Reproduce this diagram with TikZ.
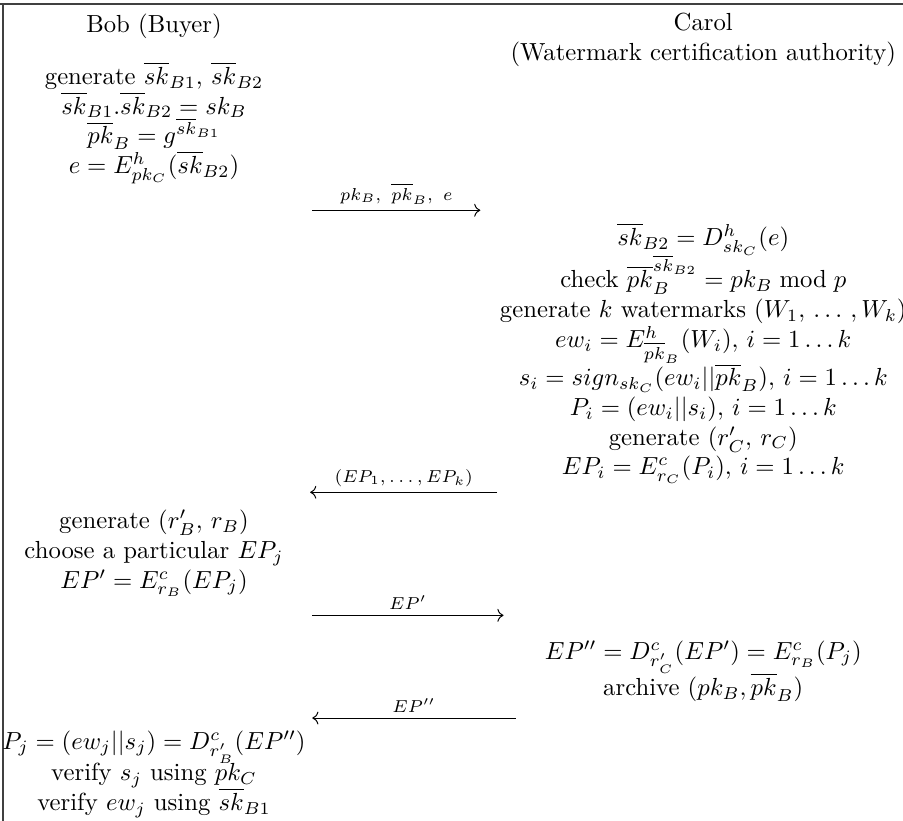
\documentclass[tikz,border=0pt]{standalone}
\usetikzlibrary{arrows.meta}

\begin{document}
\begin{tikzpicture}[frame line/.style={line width=0.6pt, black!75}, party/.style={anchor=north, align=center}, step block/.style={anchor=north, align=center, inner sep=0pt, execute at begin node={\lineskip=0pt}}, msg/.style={-{Computer Modern Rightarrow}, line width=0.4pt}, msg label/.style={midway, above, font=\scriptsize, inner sep=2pt}]

    \useasboundingbox (0, 0) rectangle (12.84, -11.67);

    % =========================================================================
    % Marco y cabeceras
    % =========================================================================
    \draw[frame line] (0, -0.06) -- (12.84, -0.06);
    \draw[frame line] (0.04, -0.06) -- (0.04, -11.67);

    \node[party] (bob) at (2.19, -0.08) {Bob (Buyer)};
    \node[party] (carol) at (10.0, -0.06) {Carol\\(Watermark certification authority)};

    % =========================================================================
    % Pasos de cada parte
    % =========================================================================
    \node[step block] (bobgen) at (2.19, -0.88) {generate $\overline{sk}_{B1}$, $\overline{sk}_{B2}$\\
        $\overline{sk}_{B1}.\overline{sk}_{B2} = sk_B$\\
        $\overline{pk}_B = g^{\overline{sk}_{B1}}$\\
        $e = E^h_{pk_C}(\overline{sk}_{B2})$};

    \node[step block] (carolchk) at (10.0, -3.17) {$\overline{sk}_{B2} = D^h_{sk_C}(e)$\\
        check $\overline{pk}_B^{\overline{sk}_{B2}} = pk_B \bmod p$\\
        generate $k$ watermarks $(W_1,\,\ldots\,, W_k)$\\
        $ew_i = E^h_{\overline{pk}_B}(W_i),\, i = 1\ldots k$\\
        $s_i = sign_{sk_C}(ew_i||\overline{pk}_B),\, i = 1\ldots k$\\
        $P_i = (ew_i||s_i),\, i = 1\ldots k$\\
        generate $(r'_C,\, r_C)$\\
        $EP_i = E^c_{r_C}(P_i),\, i = 1\ldots k$};

    \node[step block] (bobsel) at (2.19, -7.25) {generate $(r'_B,\, r_B)$\\
        choose a particular $EP_j$\\
        $EP' = E^c_{r_B}(EP_j)$};

    \node[step block] (carolarc) at (10.0, -9.10) {$EP'' = D^c_{r'_C}(EP') = E^c_{r_B}(P_j)$\\
        archive $(pk_B, \overline{pk}_B)$};

    \node[step block] (bobver) at (2.19, -10.38) {$P_j = (ew_j||s_j) = D^c_{r'_B}(EP'')$\\
        verify $s_j$ using $pk_C$\\
        verify $ew_j$ using $\overline{sk}_{B1}$};

    % =========================================================================
    % Mensajes
    % =========================================================================
    \coordinate (m1a) at (4.44, -2.99); \coordinate (m1b) at (6.83, -2.99);
    \coordinate (m2a) at (7.07, -7.00); \coordinate (m2b) at (4.41, -7.00);
    \coordinate (m3a) at (4.44, -8.75); \coordinate (m3b) at (7.16, -8.75);
    \coordinate (m4a) at (7.33, -10.21); \coordinate (m4b) at (4.44, -10.21);

    \draw[msg] (m1a) -- (m1b) node[msg label] {$pk_B,\ \overline{pk}_B,\ e$};
    \draw[msg] (m2a) -- (m2b) node[msg label] {$(EP_1,\ldots,EP_k)$};
    \draw[msg] (m3a) -- (m3b) node[msg label] {$EP'$};
    \draw[msg] (m4a) -- (m4b) node[msg label] {$EP''$};

\end{tikzpicture}
\end{document}
